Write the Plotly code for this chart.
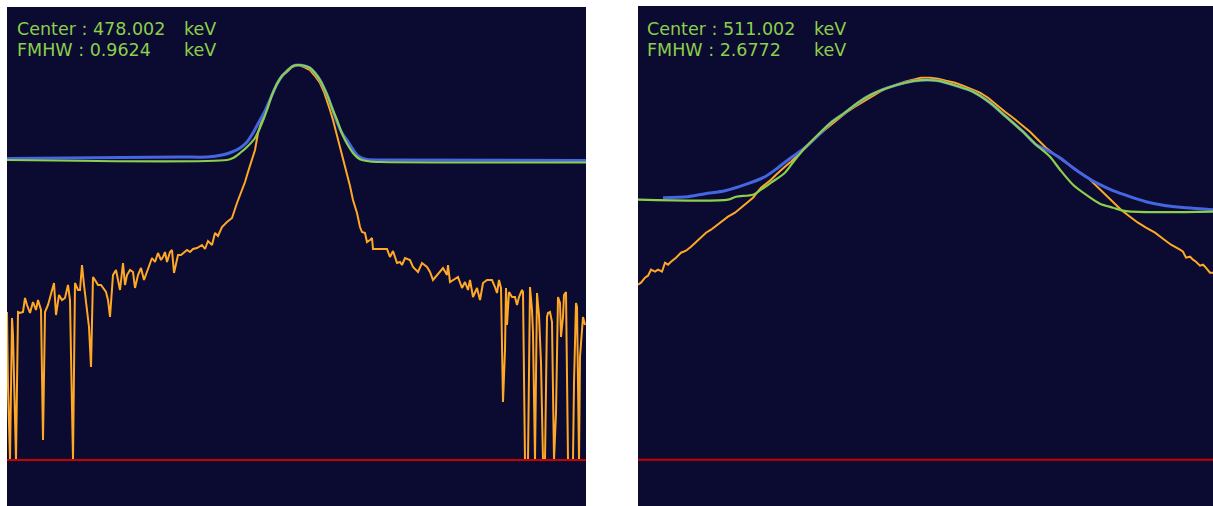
import plotly.graph_objects as go

# ---------------- Left peak: 478 keV (channel, log10 counts) ----------------
left_ch = [0, 1, 3, 5, 6, 9, 11, 13, 16, 18, 20, 23, 26, 29, 31, 34, 36, 38, 41, 44,
           47, 49, 52, 55, 58, 61, 63, 64, 66, 68, 71, 73, 75, 77, 79, 82, 84, 86, 88, 91,
           94, 97, 99, 101, 103, 106, 109, 111, 113, 116, 118, 120, 123, 126, 128, 131, 134, 137, 140, 143,
           145, 148, 151, 154, 156, 158, 160, 163, 165, 167, 169, 171, 174, 177, 180, 183, 186, 190, 195, 198,
           201, 205, 208, 211, 215, 220, 225, 230, 235, 238, 241, 245, 248, 251, 255, 260, 265, 270, 275, 280,
           285, 291, 297, 303, 308, 313, 317, 320, 323, 326, 330, 333, 336, 340, 343, 346, 350, 353, 355, 358,
           360, 363, 365, 366, 373, 380, 383, 386, 390, 393, 395, 398, 403, 406, 411, 415, 420, 423, 426, 430,
           433, 436, 440, 441, 443, 446, 451, 455, 458, 461, 463, 466, 470, 473, 476, 480, 485, 488, 490, 492,
           494, 496, 498, 499, 500, 502, 505, 508, 510, 512, 515, 516, 518, 521, 523, 525, 526, 528, 530, 531,
           532, 534, 536, 538, 540, 541, 543, 545, 547, 549, 551, 553, 554, 556, 557, 559, 561, 566, 567, 569,
           570, 572, 573, 575, 576, 578]
left_counts = [1.48, 0.73, 0.00, 1.42, 1.25, 0.00, 1.48, 1.47, 1.48, 1.62, 1.55, 1.47, 1.58, 1.50, 1.60, 1.50, 0.20, 1.48, 1.55, 1.65,
               1.77, 1.45, 1.65, 1.60, 1.62, 1.75, 1.60, 1.05, 0.00, 1.77, 1.70, 1.70, 1.95, 1.75, 1.60, 1.33, 0.93, 1.83, 1.80, 1.75,
               1.75, 1.70, 1.68, 1.60, 1.43, 1.85, 1.90, 1.80, 1.70, 1.97, 1.75, 1.85, 1.90, 1.88, 1.72, 1.85, 1.92, 1.80, 1.88, 1.98,
               2.02, 1.98, 2.07, 2.00, 2.03, 2.08, 1.98, 2.08, 2.10, 1.87, 1.98, 2.05, 2.05, 2.08, 2.10, 2.08, 2.11, 2.12, 2.15, 2.11,
               2.19, 2.15, 2.27, 2.24, 2.33, 2.38, 2.42, 2.57, 2.70, 2.78, 2.88, 3.00, 3.10, 3.27, 3.40, 3.53, 3.66, 3.77, 3.84, 3.88,
               3.93, 3.95, 3.93, 3.90, 3.84, 3.77, 3.68, 3.60, 3.50, 3.40, 3.25, 3.13, 3.02, 2.87, 2.74, 2.60, 2.47, 2.33, 2.28, 2.27,
               2.18, 2.20, 2.22, 2.11, 2.11, 2.11, 2.03, 2.09, 1.97, 1.98, 1.95, 2.02, 2.00, 1.93, 1.88, 1.97, 1.93, 1.88, 1.80, 1.85,
               1.88, 1.92, 1.85, 1.95, 1.78, 1.80, 1.83, 1.72, 1.78, 1.70, 1.80, 1.63, 1.72, 1.60, 1.77, 1.80, 1.80, 1.73, 1.67, 1.80,
               1.72, 0.58, 1.10, 1.72, 1.35, 1.68, 1.63, 1.63, 1.55, 1.63, 1.70, 1.68, 0.00, 0.00, 1.73, 1.50, 1.27, 0.00, 1.67, 1.55,
               1.45, 0.97, 0.00, 0.00, 1.43, 1.47, 1.48, 1.38, 0.00, 0.47, 1.63, 1.57, 1.23, 1.43, 1.65, 1.68, 0.00, 0.00, 0.77, 1.57,
               1.53, 0.00, 1.03, 1.30, 1.43, 1.35]

left_fit_ch = [0, 220, 226, 233, 240, 248, 255, 260, 265, 270, 275, 280, 286, 291, 298, 303, 308, 313, 317, 321,
               325, 330, 334, 338, 342, 346, 351, 355, 363, 373, 579]
left_fit = [3.00, 3.00, 3.02, 3.07, 3.13, 3.22, 3.37, 3.50, 3.65, 3.76, 3.84, 3.89, 3.94, 3.95, 3.94, 3.92, 3.87, 3.80, 3.72, 3.63,
            3.52, 3.40, 3.29, 3.20, 3.13, 3.07, 3.02, 3.00, 2.985, 2.98, 2.975]

left_bg_ch = [0, 173, 200, 215, 225, 233, 240, 246, 252, 257, 262, 265, 270, 275, 280, 286, 291, 298, 303, 308,
              313, 317, 321, 325, 330, 335, 340, 345, 350, 355, 360, 373, 579]
left_bg = [3.015, 3.03, 3.03, 3.05, 3.08, 3.12, 3.18, 3.27, 3.38, 3.47, 3.58, 3.65, 3.76, 3.84, 3.89, 3.94, 3.95, 3.94, 3.92, 3.87,
           3.80, 3.72, 3.63, 3.52, 3.38, 3.27, 3.20, 3.12, 3.05, 3.02, 3.005, 3.00, 2.995]

# ---------------- Right peak: 511 keV (channel, log10 counts) ----------------
right_ch = [0, 3, 7, 10, 13, 17, 20, 24, 27, 30, 33, 38, 43, 48, 53, 58, 63, 68, 73, 78,
            83, 90, 97, 102, 107, 111, 115, 119, 123, 128, 133, 138, 143, 148, 153, 158, 163, 168, 173, 180,
            187, 193, 200, 208, 217, 225, 233, 242, 250, 258, 267, 275, 283, 292, 300, 308, 317, 325, 333, 342,
            350, 358, 367, 375, 383, 392, 400, 408, 417, 425, 433, 442, 450, 458, 467, 475, 483, 492, 500, 508,
            517, 525, 533, 542, 545, 548, 552, 555, 558, 562, 565, 567, 570, 572, 575]
right_counts = [1.75, 1.77, 1.82, 1.84, 1.90, 1.88, 1.90, 1.88, 1.97, 1.95, 1.98, 2.02, 2.07, 2.09, 2.13, 2.18, 2.23, 2.27, 2.30, 2.34,
                2.38, 2.43, 2.47, 2.51, 2.55, 2.58, 2.62, 2.67, 2.72, 2.76, 2.80, 2.85, 2.90, 2.94, 2.98, 3.03, 3.08, 3.13, 3.18, 3.24,
                3.30, 3.35, 3.40, 3.47, 3.53, 3.58, 3.63, 3.68, 3.72, 3.75, 3.78, 3.80, 3.82, 3.82, 3.81, 3.79, 3.77, 3.74, 3.71, 3.67,
                3.62, 3.55, 3.48, 3.42, 3.35, 3.28, 3.20, 3.12, 3.05, 2.99, 2.93, 2.87, 2.82, 2.74, 2.65, 2.57, 2.50, 2.43, 2.37, 2.32,
                2.27, 2.21, 2.15, 2.10, 2.08, 2.02, 2.03, 2.00, 1.98, 1.94, 1.95, 1.93, 1.90, 1.87, 1.87]

right_fit_ch = [0, 90, 98, 115, 123, 133, 147, 157, 167, 180, 193, 207, 220, 233, 250, 267, 283, 300, 318, 335,
                352, 368, 385, 398, 412, 422, 435, 448, 462, 475, 488, 575]
right_fit = [2.60, 2.60, 2.63, 2.65, 2.70, 2.77, 2.87, 3.00, 3.12, 3.25, 3.37, 3.47, 3.57, 3.65, 3.72, 3.77, 3.795, 3.79, 3.74, 3.68,
             3.57, 3.43, 3.28, 3.15, 3.03, 2.90, 2.75, 2.65, 2.56, 2.52, 2.485, 2.48]

right_bg_ch = [25, 50, 67, 87, 107, 127, 140, 153, 167, 180, 193, 207, 220, 233, 250, 267, 283, 300, 318, 335,
               352, 368, 385, 398, 408, 422, 435, 448, 462, 475, 492, 508, 528, 548, 575]
right_bg = [2.62, 2.63, 2.66, 2.69, 2.75, 2.83, 2.92, 3.02, 3.12, 3.24, 3.37, 3.47, 3.57, 3.65, 3.72, 3.77, 3.795, 3.79, 3.74, 3.68,
            3.57, 3.43, 3.28, 3.15, 3.10, 3.02, 2.92, 2.83, 2.75, 2.69, 2.63, 2.58, 2.54, 2.52, 2.50]

# Peak parameters shown in the header text
peak_labels = [("Center :", "478.002", "keV"), ("FMHW :", "0.9624", "keV")]
peak_labels_2 = [("Center :", "511.002", "keV"), ("FMHW :", "2.6772", "keV")]

BG = "#0B0A30"
ORANGE = "#FFA826"
BLUE = "#4466E0"
GREEN = "#8CCF4C"
RED = "#C80000"

W, H = 1213, 506

fig = go.Figure()


def add_panel(xa, ya, ch, counts, bg_ch, bg, fit_ch, fit):
    fig.add_trace(go.Scatter(x=ch, y=counts, mode="lines", line=dict(color=ORANGE, width=2),
                             xaxis=xa, yaxis=ya, hoverinfo="skip"))
    fig.add_trace(go.Scatter(x=bg_ch, y=bg, mode="lines",
                             line=dict(color=BLUE, width=3, shape="spline", smoothing=0.8),
                             xaxis=xa, yaxis=ya, hoverinfo="skip"))
    fig.add_trace(go.Scatter(x=fit_ch, y=fit, mode="lines",
                             line=dict(color=GREEN, width=2.2, shape="spline", smoothing=0.8),
                             xaxis=xa, yaxis=ya, hoverinfo="skip"))


add_panel("x", "y", left_ch, left_counts, left_bg_ch, left_bg, left_fit_ch, left_fit)
add_panel("x2", "y2", right_ch, right_counts, right_bg_ch, right_bg, right_fit_ch, right_fit)

axis_common = dict(showgrid=False, zeroline=False, showticklabels=False, ticks="", showline=False)

fig.update_layout(
    width=W, height=H,
    margin=dict(l=0, r=0, t=0, b=0),
    paper_bgcolor="white",
    plot_bgcolor=BG,
    showlegend=False,
    xaxis=dict(domain=[7 / W, 586 / W], range=[0, 579], **axis_common),
    yaxis=dict(domain=[0, 1 - 7 / H], range=[-0.46, 4.53], **axis_common),
    xaxis2=dict(domain=[638 / W, 1], range=[0, 575], anchor="y2", **axis_common),
    yaxis2=dict(domain=[0, 1 - 6 / H], range=[-0.463, 4.537], anchor="x2", **axis_common),
)

# zero-count baseline
for xr, yr in (("x domain", "y"), ("x2 domain", "y2")):
    fig.add_shape(type="line", xref=xr, yref=yr, x0=0, x1=1, y0=0, y1=0,
                  line=dict(color=RED, width=2))

font = dict(family="DejaVu Sans", size=17.5, color=GREEN)


def add_header(x0, labels):
    for i, (name, val, unit) in enumerate(labels):
        yc = 1 - (28.5 + 21.5 * i) / H
        fig.add_annotation(xref="paper", yref="paper", x=(x0 - 2) / W, y=yc,
                           text=f"{name} {val}", showarrow=False, xanchor="left", yanchor="middle", font=font)
        fig.add_annotation(xref="paper", yref="paper", x=(x0 + 165) / W, y=yc,
                           text=unit, showarrow=False, xanchor="left", yanchor="middle", font=font)


add_header(17, peak_labels)
add_header(647, peak_labels_2)

fig.write_html("out.html")
